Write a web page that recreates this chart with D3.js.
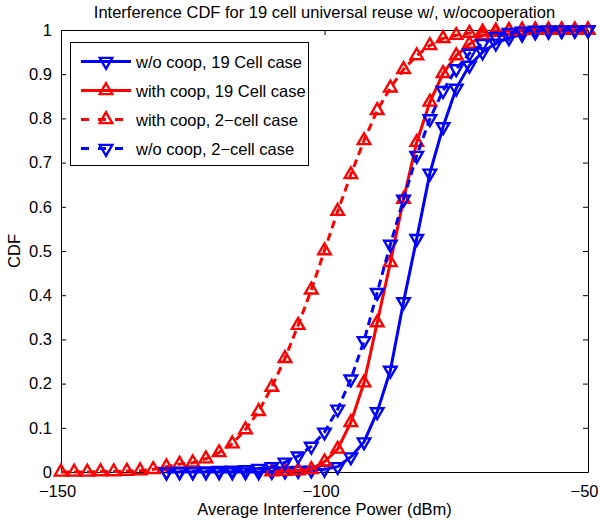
<!DOCTYPE html>
<html>
<head>
<meta charset="utf-8">
<script src="https://cdn.jsdelivr.net/npm/d3@7"></script>
<style>
body { margin:0; background:#fff; }
text { font-family: "Liberation Sans", Arial, Helvetica, sans-serif; }
</style>
</head>
<body>
<script>
var titleText = "Interference CDF for 19 cell universal reuse w/, w/ocooperation";
var xLabelText = "Average Interference Power (dBm)";
var yLabelText = "CDF";

var xTicks = [-150, -100, -50];
var yTicks = [0, 0.1, 0.2, 0.3, 0.4, 0.5, 0.6, 0.7, 0.8, 0.9, 1];

// x grids
var xFrom150 = [-150,-147.5,-145,-142.5,-140,-137.5,-135,-132.5,-130,-127.5,-125,-122.5,-120,-117.5,-115,-112.5,-110,-107.5,-105,-102.5,-100,-97.5,-95,-92.5,-90,-87.5,-85,-82.5,-80,-77.5,-75,-72.5,-70,-67.5,-65,-62.5,-60,-57.5,-55,-52.5,-50];
var xFrom130 = [-130,-127.5,-125,-122.5,-120,-117.5,-115,-112.5,-110,-107.5,-105,-102.5,-100,-97.5,-95,-92.5,-90,-87.5,-85,-82.5,-80,-77.5,-75,-72.5,-70,-67.5,-65,-62.5,-60,-57.5,-55,-52.5,-50];
var xFrom110 = [-110,-107.5,-105,-102.5,-100,-97.5,-95,-92.5,-90,-87.5,-85,-82.5,-80,-77.5,-75,-72.5,-70,-67.5,-65,-62.5,-60,-57.5,-55,-52.5,-50];

// w/o coop, 19 Cell case (blue solid)
var woCoop19 = [0,0,0,0,0,0,0,0,0.001,0.002,0.003,0.004,0.006,0.012,0.034,0.068,0.136,0.23,0.385,0.528,0.676,0.781,0.868,0.92,0.95,0.97,0.982,0.99,0.995,0.997,0.998,0.999,1];
// with coop, 19 Cell case (red solid)
var withCoop19 = [0.001,0.002,0.003,0.006,0.023,0.052,0.112,0.202,0.338,0.474,0.617,0.746,0.837,0.902,0.942,0.968,0.988,0.995,0.998,0.999,1,1,1,1,1];
// with coop, 2-cell case (red dashed)
var withCoop2 = [0,0,0,0.001,0.001,0.002,0.003,0.006,0.012,0.018,0.021,0.03,0.044,0.064,0.096,0.137,0.192,0.257,0.332,0.412,0.501,0.59,0.673,0.75,0.818,0.869,0.911,0.942,0.965,0.981,0.988,0.993,0.996,0.998,0.999,1,1,1,1,1,1];
// w/o coop, 2-cell case (blue dashed)
var woCoop2 = [0,0.001,0.001,0.002,0.003,0.004,0.005,0.008,0.012,0.022,0.036,0.058,0.09,0.142,0.21,0.297,0.406,0.515,0.617,0.716,0.799,0.863,0.912,0.947,0.969,0.985,0.994,0.997,0.999,1,1,1,1];

var legendNames = ["w/o coop, 19 Cell case", "with coop, 19 Cell case", "with coop, 2\u2212cell case", "w/o coop, 2\u2212cell case"];

var width = 600;
var height = 527;
var margin = {left:61, right:12, top:30, bottom:55};
var fontSize = "16.5px";

function drawChart()
{
  var svg = d3.select("body").append("svg")
              .attr("width", width)
              .attr("height", height);

  var x = d3.scaleLinear().domain([-150, -50]).range([margin.left, width - margin.right]);
  var y = d3.scaleLinear().domain([0, 1]).range([height - margin.bottom, margin.top]);

  var series = [
    {name:legendNames[0], xs:xFrom130, ys:woCoop19, color:"#0000ff", dash:null, down:true},
    {name:legendNames[1], xs:xFrom110, ys:withCoop19, color:"#ff0000", dash:null, down:false},
    {name:legendNames[2], xs:xFrom150, ys:withCoop2, color:"#ff0000", dash:"8,5", down:false},
    {name:legendNames[3], xs:xFrom130, ys:woCoop2, color:"#0000ff", dash:"8,5", down:true}
  ];

  // axes box with inward ticks (matlab style)
  var g = svg.append("g");
  var x0 = x.range()[0], x1 = x.range()[1];
  var y0 = y.range()[0], y1 = y.range()[1];

  g.append("g")
   .attr("class", "xaxis")
   .attr("transform", "translate(0," + y0 + ")")
   .call(d3.axisBottom(x).tickValues(xTicks).tickSizeInner(-5).tickSizeOuter(0).tickPadding(13)
         .tickFormat(function(d){ return d < 0 ? "\u2212" + Math.abs(d) : d; }));
  g.append("g")
   .attr("transform", "translate(0," + y1 + ")")
   .call(d3.axisTop(x).tickValues(xTicks).tickSizeInner(-5).tickSizeOuter(0).tickFormat(""));
  g.append("g")
   .attr("transform", "translate(" + x0 + ",0)")
   .call(d3.axisLeft(y).tickValues(yTicks).tickSizeInner(-5).tickSizeOuter(0).tickPadding(9)
         .tickFormat(function(d){ return d3.format("~g")(d); }));
  g.append("g")
   .attr("transform", "translate(" + x1 + ",0)")
   .call(d3.axisRight(y).tickValues(yTicks).tickSizeInner(-5).tickSizeOuter(0).tickFormat(""));

  g.selectAll(".domain").attr("stroke", "#000");
  g.selectAll(".tick line").attr("stroke", "#000");
  g.selectAll(".tick text").attr("fill", "#000").style("font-size", fontSize);
  // matlab sits the minus-signed labels a little left of the tick
  g.selectAll(".xaxis .tick text").attr("dx", -4);

  var tri = d3.symbol().type(d3.symbolTriangle).size(68);

  series.forEach(function(s)
  {
    var pts = s.xs.map(function(v, i){ return [v, s.ys[i]]; });
    var line = d3.line()
                 .x(function(d){ return x(d[0]); })
                 .y(function(d){ return y(d[1]); });
    svg.append("path")
       .datum(pts)
       .attr("d", line)
       .attr("fill", "none")
       .attr("stroke", s.color)
       .attr("stroke-width", 3)
       .attr("stroke-dasharray", s.dash);
    svg.append("g").selectAll("path")
       .data(pts)
       .enter()
       .append("path")
       .attr("d", tri)
       .attr("transform", function(d){
         return "translate(" + x(d[0]) + "," + y(d[1]) + ")" + (s.down ? " rotate(180)" : "");
       })
       .attr("fill", "none")
       .attr("stroke", s.color)
       .attr("stroke-width", 2.4);
  });

  // legend
  var lg = svg.append("g");
  lg.append("rect")
    .attr("x", 70.5).attr("y", 42.5)
    .attr("width", 238).attr("height", 123)
    .attr("fill", "#fff").attr("stroke", "#000").attr("stroke-width", 1);
  series.forEach(function(s, i)
  {
    var ly = 61.5 + i * 29;
    lg.append("line")
      .attr("x1", 81).attr("x2", 131).attr("y1", ly).attr("y2", ly)
      .attr("stroke", s.color).attr("stroke-width", 3)
      .attr("stroke-dasharray", s.dash ? "8,9" : null);
    lg.append("path")
      .attr("d", tri)
      .attr("transform", "translate(106," + ly + ")" + (s.down ? " rotate(180)" : ""))
      .attr("fill", "none").attr("stroke", s.color).attr("stroke-width", 2.4);
    lg.append("text")
      .attr("x", 136).attr("y", ly + 6)
      .style("font-size", fontSize)
      .text(s.name);
  });

  svg.append("text")
     .attr("x", (x0 + x1) / 2).attr("y", 18)
     .attr("text-anchor", "middle")
     .style("font-size", fontSize)
     .text(titleText);
  svg.append("text")
     .attr("x", (x0 + x1) / 2).attr("y", 515)
     .attr("text-anchor", "middle")
     .style("font-size", fontSize)
     .text(xLabelText);
  svg.append("text")
     .attr("transform", "translate(20," + ((y0 + y1) / 2) + ") rotate(-90)")
     .attr("text-anchor", "middle")
     .style("font-size", fontSize)
     .text(yLabelText);
}

window.onload = drawChart();
</script>
</body>
</html>
